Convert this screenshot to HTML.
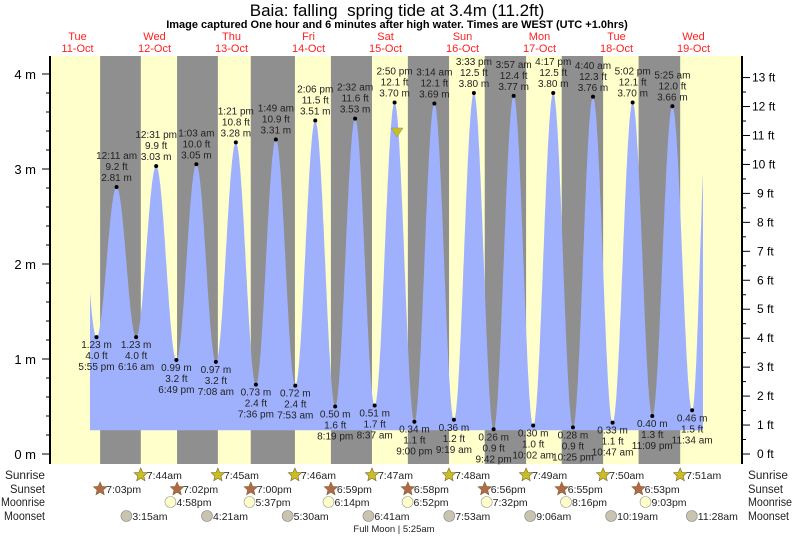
<!DOCTYPE html>
<html><head><meta charset="utf-8"><style>
body{margin:0;background:#fff;}
svg{display:block;font-family:"Liberation Sans",sans-serif;}
</style></head><body>
<svg id="s" width="793" height="537" xmlns="http://www.w3.org/2000/svg"></svg>
<script>
const s=document.getElementById('s');
let h='';
const X=t=>39+t*77/24, Y=m=>454-95*m;
const L=50,R=742,T=56,B=464;
h+=`<rect x="${L}" y="${T}" width="${R-L}" height="${B-T}" fill="#ffffcc"/>`;
const ss=[19.05,43.03,66.0,90.98,114.97,138.93,162.92,186.88];
const sr=[31.73,55.75,79.77,103.78,127.8,151.82,175.83,199.85];
for(let i=0;i<8;i++){let a=X(ss[i]),b=Math.min(X(sr[i]),R);h+=`<rect x="${a}" y="${T}" width="${b-a}" height="${B-T}" fill="#8f8f8f"/>`;}
const ex=[[17.92,1.23,'5:55 pm'],[24.18,2.81,'12:11 am'],[30.27,1.23,'6:16 am'],[36.52,3.03,'12:31 pm'],[42.82,0.99,'6:49 pm'],[49.05,3.05,'1:03 am'],[55.13,0.97,'7:08 am'],[61.35,3.28,'1:21 pm'],[67.6,0.73,'7:36 pm'],[73.82,3.31,'1:49 am'],[79.88,0.72,'7:53 am'],[86.1,3.51,'2:06 pm'],[92.32,0.50,'8:19 pm'],[98.53,3.53,'2:32 am'],[104.62,0.51,'8:37 am'],[110.83,3.70,'2:50 pm'],[117.0,0.34,'9:00 pm'],[123.23,3.69,'3:14 am'],[129.32,0.36,'9:19 am'],[135.55,3.80,'3:33 pm'],[141.7,0.26,'9:42 pm'],[147.95,3.77,'3:57 am'],[154.03,0.30,'10:02 am'],[160.28,3.80,'4:17 pm'],[166.42,0.28,'10:25 pm'],[172.67,3.76,'4:40 am'],[178.78,0.33,'10:47 am'],[185.03,3.70,'5:02 pm'],[191.15,0.40,'11:09 pm'],[197.42,3.66,'5:25 am'],[203.57,0.46,'11:34 am'],[208.4,3.6,'']];
const pts=[[11.7,3.2]].concat(ex);
function ht(t){for(let i=0;i<pts.length-1;i++){let [a,ha]=pts[i],[b,hb]=pts[i+1];if(t>=a&&t<=b){let f=(1-Math.cos(Math.PI*(t-a)/(b-a)))/2;return ha+(hb-ha)*f;}}return 0;}
const t0=(90-39)*24/77,t1=(703-39)*24/77;
let p=`M${X(t0)},${Y(0.25)}`;
for(let t=t0;t<=t1;t+=0.1)p+=` L${X(t).toFixed(1)},${Y(ht(t)).toFixed(1)}`;
p+=` L${X(t1)},${Y(ht(t1))} L${X(t1)},${Y(0.25)} Z`;
h+=`<path d="${p}" fill="#9fb1fd"/>`;
ex.slice(0,31).forEach(([t,m,tm],i)=>{const x=X(t),y=Y(m),ft=(m*3.2808).toFixed(1);
h+=`<circle cx="${x}" cy="${y}" r="2" fill="#000"/>`;
const st=`font-size="10" text-anchor="middle" fill="#222"`;
if(m>2){h+=`<text x="${x}" y="${y-6}" ${st}>${m.toFixed(2)} m</text><text x="${x}" y="${y-17}" ${st}>${ft} ft</text><text x="${x}" y="${y-28}" ${st}>${tm}</text>`;}
else{h+=`<text x="${x}" y="${y+11}" ${st}>${m.toFixed(2)} m</text><text x="${x}" y="${y+22}" ${st}>${ft} ft</text><text x="${x}" y="${y+33}" ${st}>${tm}</text>`;}
});
h+=`<line x1="${L}" y1="${T}" x2="${L}" y2="${B}" stroke="#000" stroke-width="2"/><line x1="${R}" y1="${T}" x2="${R}" y2="${B}" stroke="#000" stroke-width="2"/>`;
for(let m=0;m<=4.01;m+=0.2){let y=Y(m);let maj=Math.abs(m-Math.round(m))<0.01;h+=`<line x1="${maj?L-8:L-4}" y1="${y}" x2="${L}" y2="${y}" stroke="#000"/>`;if(maj)h+=`<text x="36" y="${y+5}" font-size="13" text-anchor="end">${Math.round(m)} m</text>`;}
for(let f=0;f<=13;f+=0.5){let y=454-95*f/3.2808;let maj=f%1==0;h+=`<line x1="${R}" y1="${y}" x2="${R+(maj?8:4)}" y2="${y}" stroke="#000"/>`;if(maj)h+=`<text x="${f>=10?752:757}" y="${y+4}" font-size="12">${f} ft</text>`;}
h+=`<polygon points="391,128 403,128 397,137" fill="#c8c020" stroke="#888" stroke-width="0.5"/>`;
h+=`<text x="397" y="16" font-size="17" text-anchor="middle">Baia: falling&#160; spring tide at 3.4m (11.2ft)</text>`;
h+=`<text x="397" y="28" font-size="11" font-weight="bold" text-anchor="middle">Image captured One hour and 6 minutes after high water. Times are WEST (UTC +1.0hrs)</text>`;
const days=[['Tue','11-Oct'],['Wed','12-Oct'],['Thu','13-Oct'],['Fri','14-Oct'],['Sat','15-Oct'],['Sun','16-Oct'],['Mon','17-Oct'],['Tue','18-Oct'],['Wed','19-Oct']];
days.forEach((d,i)=>{let x=X(12+24*i);h+=`<text x="${x}" y="40" font-size="11" fill="#ff2020" text-anchor="middle">${d[0]}</text><text x="${x}" y="52" font-size="11" fill="#ff2020" text-anchor="middle">${d[1]}</text>`;});
[['Sunrise',479,40],['Sunset',493,35],['Moonrise',506,44],['Moonset',520,41]].forEach(([n,y,w])=>{h+=`<text x="${45-w}" y="${y}" font-size="11.5" fill="#222" textLength="${w}" lengthAdjust="spacingAndGlyphs">${n}</text><text x="748" y="${y}" font-size="11.5" fill="#222" textLength="${w}" lengthAdjust="spacingAndGlyphs">${n}</text>`;});
function star(x,y,c){let q='';for(let k=0;k<10;k++){let r=k%2?3.2:7,a=-Math.PI/2+k*Math.PI/5;q+=`${(x+r*Math.cos(a)).toFixed(1)},${(y+r*Math.sin(a)).toFixed(1)} `;}return `<polygon points="${q}" fill="${c}" stroke="#806030" stroke-width="0.6"/>`;}
const srT=['7:44am','7:45am','7:46am','7:47am','7:48am','7:49am','7:50am','7:51am'];
sr.forEach((t,i)=>{let x=X(t);h+=star(x,475,'#c8c020')+`<text x="${x+6}" y="479" font-size="10.5" fill="#222">${srT[i]}</text>`;});
const ssT=['7:03pm','7:02pm','7:00pm','6:59pm','6:58pm','6:56pm','6:55pm','6:53pm'];
ss.forEach((t,i)=>{let x=X(t);h+=star(x,489,'#b06a48')+`<text x="${x+6}" y="493" font-size="10.5" fill="#222">${ssT[i]}</text>`;});
const mr=[[40.97,'4:58pm'],[65.62,'5:37pm'],[90.23,'6:14pm'],[114.87,'6:52pm'],[139.53,'7:32pm'],[164.27,'8:16pm'],[189.05,'9:03pm']];
mr.forEach(([t,s2])=>{let x=X(t);h+=`<circle cx="${x}" cy="502" r="5.5" fill="#ffffcc" stroke="#999" stroke-width="0.6"/><text x="${x+6}" y="506" font-size="10.5" fill="#222">${s2}</text>`;});
const ms=[[27.25,'3:15am'],[52.35,'4:21am'],[77.5,'5:30am'],[102.68,'6:41am'],[127.88,'7:53am'],[153.1,'9:06am'],[178.32,'10:19am'],[203.47,'11:28am']];
ms.forEach(([t,s2])=>{let x=X(t);h+=`<circle cx="${x}" cy="516" r="5.5" fill="#c8c4b0" stroke="#888" stroke-width="0.6"/><text x="${x+6}" y="520" font-size="10.5" fill="#222">${s2}</text>`;});
h+=`<text x="394" y="532" font-size="9.5" fill="#222" text-anchor="middle">Full Moon | 5:25am</text>`;
s.innerHTML=h;
</script>
</body></html>
